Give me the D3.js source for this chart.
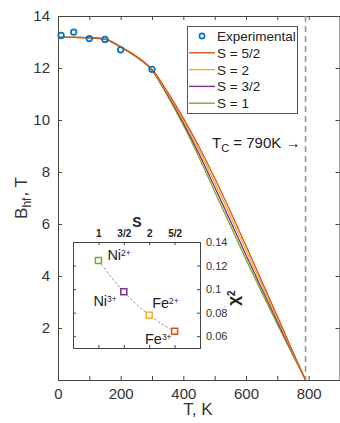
<!doctype html>
<html lang="en">
<head>
<meta charset="UTF-8">
<title>Bhf vs T</title>
<script src="https://cdnjs.cloudflare.com/ajax/libs/d3/7.8.5/d3.min.js"></script>
<style>
    body { margin: 0; background: #fff; }
    svg text { font-family: "Liberation Sans", Arial, sans-serif; }
</style>
</head>
<body>
<svg id="chart" width="340" height="423"></svg>
<script>
    // experimental points
    var T_EXP = [10, 50, 100, 150, 200, 300];
    var B_EXP = [13.25, 13.38, 13.13, 13.1, 12.7, 11.95];

    // fitted curves
    var T_FIT = [0, 50, 100, 150, 200, 250, 300, 350, 400, 450, 500, 550, 600, 650, 700, 750, 790];
    var B_S52 = [13.18, 13.18, 13.16, 13.1, 12.8, 12.45, 11.95, 11.07, 10.07, 8.97, 7.77, 6.49, 5.16, 3.81, 2.45, 1.08, 0];
    var B_S2  = [13.18, 13.18, 13.16, 13.11, 12.81, 12.44, 11.93, 11.02, 9.98, 8.84, 7.6, 6.31, 4.99, 3.67, 2.35, 1.03, 0];
    var B_S32 = [13.18, 13.18, 13.17, 13.11, 12.81, 12.43, 11.92, 10.97, 9.89, 8.7, 7.42, 6.12, 4.81, 3.52, 2.25, 0.99, 0];
    var B_S1  = [13.18, 13.18, 13.17, 13.12, 12.82, 12.42, 11.9, 10.92, 9.8, 8.57, 7.25, 5.94, 4.64, 3.38, 2.15, 0.94, 0];

    var SERIES_NAMES = ['S = 5/2', 'S = 2', 'S = 3/2', 'S = 1'];
    var SERIES_DATA = [B_S52, B_S2, B_S32, B_S1];
    var TC = 790;

    // inset
    var S_VAL = [1, 1.5, 2, 2.5];
    var S_TICKS = ['1', '3/2', '2', '5/2'];
    var CHI2 = [0.1243, 0.0978, 0.0779, 0.0642];
    var ION = ['Ni', 'Ni', 'Fe', 'Fe'];
    var CHARGE = ['2+', '3+', '2+', '3+'];

    var colors = ['#D95319', '#EDB120', '#7E2F8E', '#77AC30'];
    var blue = '#0072BD';
    var axisColor = '#444';

    var svg = d3.select('#chart');

    var x = d3.scaleLinear().domain([0, 900]).range([58, 340]);
    var y = d3.scaleLinear().domain([0, 14]).range([380, 16]);

    function styleAxis(g, fs) {
        g.select('.domain').attr('stroke', axisColor);
        g.selectAll('.tick line').attr('stroke', axisColor);
        g.selectAll('.tick text').attr('fill', '#333').style('font-size', fs + 'px')
            .style('font-family', '"Liberation Sans", Arial, sans-serif');
    }

    // main axes (inward ticks, box)
    var xTicks = d3.range(0, 901, 100);
    var gx = svg.append('g').attr('transform', 'translate(0,380)')
        .call(d3.axisBottom(x).tickValues(xTicks).tickSize(-4).tickPadding(8)
            .tickFormat(function (d) { return d % 200 === 0 && d < 900 ? d : ''; }));
    styleAxis(gx, 15);
    var gxt = svg.append('g').attr('transform', 'translate(0,16)')
        .call(d3.axisTop(x).tickValues(xTicks).tickSize(-4).tickFormat(''));
    styleAxis(gxt, 15);

    var gy = svg.append('g').attr('transform', 'translate(58,0)')
        .call(d3.axisLeft(y).tickValues(d3.range(2, 15, 2)).tickSize(-4).tickPadding(8));
    styleAxis(gy, 15);
    var gyr = svg.append('g').attr('transform', 'translate(339.5,0)')
        .call(d3.axisRight(y).tickValues(d3.range(2, 15, 2)).tickSize(-4).tickFormat(''));
    styleAxis(gyr, 15);

    // Tc dashed line
    svg.append('line')
        .attr('x1', x(TC)).attr('x2', x(TC))
        .attr('y1', y(14)).attr('y2', y(0))
        .attr('stroke', '#999').attr('stroke-width', 1.6)
        .attr('stroke-dasharray', '6,4');

    // curves (draw S=1 first so S=5/2 on top)
    var line = d3.line()
        .x(function (d) { return x(d[0]); })
        .y(function (d) { return y(d[1]); })
        .curve(d3.curveMonotoneX);

    for (var k = SERIES_DATA.length - 1; k >= 0; k--) {
        var pts = T_FIT.map(function (t, i) { return [t, SERIES_DATA[k][i]]; });
        svg.append('path').datum(pts)
            .attr('d', line)
            .attr('fill', 'none')
            .attr('stroke', colors[k])
            .attr('stroke-width', 1.3);
    }

    // experimental points
    svg.selectAll('circle.exp')
        .data(T_EXP.map(function (t, i) { return [t, B_EXP[i]]; }))
        .enter().append('circle')
        .attr('class', 'exp')
        .attr('cx', function (d) { return x(d[0]); })
        .attr('cy', function (d) { return y(d[1]); })
        .attr('r', 2.8)
        .attr('fill', 'none')
        .attr('stroke', blue)
        .attr('stroke-width', 1.7);

    // axis labels
    var yl = svg.append('text')
        .attr('transform', 'translate(27,198) rotate(-90)')
        .attr('text-anchor', 'middle')
        .attr('fill', '#333')
        .style('font-size', '17px');
    yl.append('tspan').text('B');
    yl.append('tspan').attr('baseline-shift', '-30%').style('font-size', '12px').text('hf');
    yl.append('tspan').attr('dx', 1).text(', T');

    svg.append('text')
        .attr('x', 198).attr('y', 415)
        .attr('text-anchor', 'middle')
        .attr('fill', '#333')
        .style('font-size', '17px')
        .text('T, K');

    // Tc label
    var tc = svg.append('text')
        .attr('x', 212).attr('y', 148)
        .attr('fill', '#222')
        .style('font-size', '15px');
    tc.append('tspan').text('T');
    tc.append('tspan').attr('baseline-shift', '-35%').style('font-size', '11px').text('C');
    tc.append('tspan').text(' = 790K \u2192');

    // legend
    var lg = svg.append('g');
    lg.append('rect')
        .attr('x', 187.5).attr('y', 26.5).attr('width', 110).attr('height', 87)
        .attr('fill', '#fff').attr('stroke', '#555').attr('stroke-width', 1);
    var legendRows = ['Experimental'].concat(SERIES_NAMES);
    legendRows.forEach(function (name, i) {
        var ly = 36 + i * 16.8;
        if (i === 0) {
            lg.append('circle').attr('cx', 202).attr('cy', ly)
                .attr('r', 2.6).attr('fill', 'none')
                .attr('stroke', blue).attr('stroke-width', 1.6);
        } else {
            lg.append('line').attr('x1', 189).attr('x2', 215)
                .attr('y1', ly).attr('y2', ly)
                .attr('stroke', colors[i - 1]).attr('stroke-width', 1.4);
        }
        lg.append('text').attr('x', 217).attr('y', ly + 5)
            .attr('fill', '#222')
            .style('font-size', '13.5px')
            .text(name);
    });

    // ---------- inset ----------
    var ix = d3.scaleLinear().domain([0.5, 3]).range([73, 200]);
    var iy = d3.scaleLinear().domain([0.05, 0.14]).range([348, 242]);

    svg.append('rect')
        .attr('x', 73).attr('y', 242).attr('width', 127).attr('height', 106)
        .attr('fill', '#fff').attr('stroke', 'none');

    var gix = svg.append('g').attr('transform', 'translate(0,242)')
        .call(d3.axisTop(ix).tickValues(S_VAL).tickSize(-3).tickPadding(5)
            .tickFormat(function (d, i) { return S_TICKS[i]; }));
    styleAxis(gix, 10);
    gix.selectAll('.tick text').style('font-weight', 'bold').attr('fill', '#222');
    var gixb = svg.append('g').attr('transform', 'translate(0,348)')
        .call(d3.axisBottom(ix).tickValues(S_VAL).tickSize(-3).tickFormat(''));
    styleAxis(gixb, 10);

    var chiTicks = [0.06, 0.08, 0.1, 0.12, 0.14];
    var giy = svg.append('g').attr('transform', 'translate(200,0)')
        .call(d3.axisRight(iy).tickValues(chiTicks).tickSize(-3).tickPadding(6)
            .tickFormat(function (d) { return d3.format('')(+d.toFixed(2)); }));
    styleAxis(giy, 11);
    var giyl = svg.append('g').attr('transform', 'translate(73,0)')
        .call(d3.axisLeft(iy).tickValues(chiTicks).tickSize(-3).tickFormat(''));
    styleAxis(giyl, 11);

    svg.append('text')
        .attr('x', 137).attr('y', 227)
        .attr('text-anchor', 'middle')
        .attr('fill', '#222')
        .style('font-size', '14px').style('font-weight', 'bold')
        .text('S');

    var chiLab = svg.append('text')
        .attr('transform', 'translate(239,298) rotate(-90)')
        .attr('text-anchor', 'middle')
        .attr('fill', '#222')
        .style('font-size', '17px').style('font-weight', 'bold');
    chiLab.append('tspan').text('\u03c7');
    chiLab.append('tspan').attr('baseline-shift', '45%').style('font-size', '10px').text('2');

    var ipts = S_VAL.map(function (s, i) { return [s, CHI2[i]]; });
    svg.append('path').datum(ipts)
        .attr('d', d3.line()
            .x(function (d) { return ix(d[0]); })
            .y(function (d) { return iy(d[1]); })
            .curve(d3.curveMonotoneX))
        .attr('fill', 'none')
        .attr('stroke', '#888')
        .attr('stroke-width', 0.9)
        .attr('stroke-dasharray', '2.5,2');

    // square markers: S=1 green ... S=5/2 orange
    var markerColors = [colors[3], colors[2], colors[1], colors[0]];
    svg.selectAll('rect.sq')
        .data(ipts)
        .enter().append('rect')
        .attr('class', 'sq')
        .attr('x', function (d) { return ix(d[0]) - 3; })
        .attr('y', function (d) { return iy(d[1]) - 3; })
        .attr('width', 6).attr('height', 6)
        .attr('fill', '#fff')
        .attr('stroke', function (d, i) { return markerColors[i]; })
        .attr('stroke-width', 1.5);

    // ion labels
    var labelPos = [
        {dx: 9, dy: 0, anchor: 'start'},
        {dx: -7, dy: 14, anchor: 'end'},
        {dx: 3, dy: -7, anchor: 'start'},
        {dx: -3, dy: 13, anchor: 'end'}
    ];
    ipts.forEach(function (d, i) {
        var t = svg.append('text')
            .attr('x', ix(d[0]) + labelPos[i].dx)
            .attr('y', iy(d[1]) + labelPos[i].dy)
            .attr('text-anchor', labelPos[i].anchor)
            .attr('fill', '#222')
            .style('font-size', '14.5px');
        t.append('tspan').text(ION[i]);
        t.append('tspan').attr('baseline-shift', '40%').style('font-size', '8.5px').text(CHARGE[i]);
    });
</script>
</body>
</html>
